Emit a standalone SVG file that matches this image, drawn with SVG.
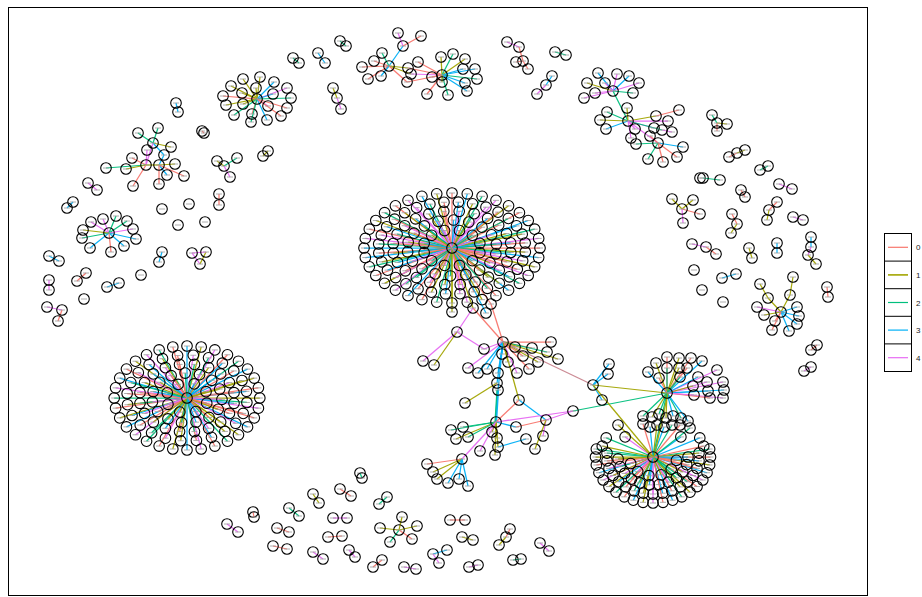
<svg xmlns="http://www.w3.org/2000/svg" xmlns:xlink="http://www.w3.org/1999/xlink" width="922" height="597" viewBox="0 0 922 597">
<style>
.e line{stroke-width:1.25;vector-effect:non-scaling-stroke;opacity:.95}
.c0{stroke:#F8766D}.c1{stroke:#A3A500}.c2{stroke:#00BF7D}.c3{stroke:#00B0F6}.c4{stroke:#E76BF3}
.lg{font-family:"Liberation Sans",Arial,sans-serif;font-size:8px;fill:#1a1a1a}
</style>
<defs>
<g id="nd"><circle r="5.3" fill="none" stroke="#000" stroke-width="1.1"/><path d="M-3 0h6" stroke="#999" stroke-width=".8"/></g>
<g id="ndA"><use href="#nd" transform="scale(.625 1)"/></g>
<g id="ndB"><use href="#nd" transform="scale(.714286 1)"/></g>
<g id="ndD"><use href="#nd" transform="scale(.8 1)"/></g>
</defs>
<rect x="0" y="0" width="922" height="597" fill="#fff"/>
<rect x="8.5" y="7.5" width="859" height="588" fill="#fff" stroke="#000" stroke-width="1"/>

<g id="connectors" class="e">
<g transform="translate(452 248) scale(1.6 1)">
<line class="c0" transform="rotate(0)" x2="55"/><line class="c3" transform="rotate(10)" x2="55"/><line class="c1" transform="rotate(20)" x2="55"/><line class="c4" transform="rotate(30)" x2="55"/><line class="c2" transform="rotate(40)" x2="55"/><line class="c3" transform="rotate(50)" x2="55"/><line class="c0" transform="rotate(60)" x2="55"/><line class="c1" transform="rotate(70)" x2="55"/><line class="c4" transform="rotate(80)" x2="55"/><line class="c1" transform="rotate(90)" x2="55"/><line class="c2" transform="rotate(100)" x2="55"/><line class="c0" transform="rotate(110)" x2="55"/><line class="c3" transform="rotate(120)" x2="55"/><line class="c4" transform="rotate(130)" x2="55"/><line class="c1" transform="rotate(140)" x2="55"/><line class="c0" transform="rotate(150)" x2="55"/><line class="c2" transform="rotate(160)" x2="55"/><line class="c3" transform="rotate(170)" x2="55"/><line class="c3" transform="rotate(180)" x2="55"/><line class="c4" transform="rotate(190)" x2="55"/><line class="c0" transform="rotate(200)" x2="55"/><line class="c1" transform="rotate(210)" x2="55"/><line class="c2" transform="rotate(220)" x2="55"/><line class="c0" transform="rotate(230)" x2="55"/><line class="c4" transform="rotate(240)" x2="55"/><line class="c3" transform="rotate(250)" x2="55"/><line class="c1" transform="rotate(260)" x2="55"/><line class="c0" transform="rotate(270)" x2="55"/><line class="c3" transform="rotate(280)" x2="55"/><line class="c2" transform="rotate(290)" x2="55"/><line class="c4" transform="rotate(300)" x2="55"/><line class="c1" transform="rotate(310)" x2="55"/><line class="c0" transform="rotate(320)" x2="55"/><line class="c3" transform="rotate(330)" x2="55"/><line class="c2" transform="rotate(340)" x2="55"/><line class="c4" transform="rotate(350)" x2="55"/>
<line class="c1" transform="rotate(5)" x2="46"/><line class="c4" transform="rotate(16.25)" x2="46"/><line class="c0" transform="rotate(27.5)" x2="46"/><line class="c3" transform="rotate(38.75)" x2="46"/><line class="c1" transform="rotate(50)" x2="46"/><line class="c2" transform="rotate(61.25)" x2="46"/><line class="c0" transform="rotate(72.5)" x2="46"/><line class="c4" transform="rotate(83.75)" x2="46"/><line class="c3" transform="rotate(95)" x2="46"/><line class="c1" transform="rotate(106.25)" x2="46"/><line class="c0" transform="rotate(117.5)" x2="46"/><line class="c2" transform="rotate(128.75)" x2="46"/><line class="c4" transform="rotate(140)" x2="46"/><line class="c3" transform="rotate(151.25)" x2="46"/><line class="c1" transform="rotate(162.5)" x2="46"/><line class="c0" transform="rotate(173.75)" x2="46"/><line class="c2" transform="rotate(185)" x2="46"/><line class="c4" transform="rotate(196.25)" x2="46"/><line class="c3" transform="rotate(207.5)" x2="46"/><line class="c0" transform="rotate(218.75)" x2="46"/><line class="c1" transform="rotate(230)" x2="46"/><line class="c4" transform="rotate(241.25)" x2="46"/><line class="c2" transform="rotate(252.5)" x2="46"/><line class="c0" transform="rotate(263.75)" x2="46"/><line class="c3" transform="rotate(275)" x2="46"/><line class="c1" transform="rotate(286.25)" x2="46"/><line class="c4" transform="rotate(297.5)" x2="46"/><line class="c0" transform="rotate(308.75)" x2="46"/><line class="c2" transform="rotate(320)" x2="46"/><line class="c3" transform="rotate(331.25)" x2="46"/><line class="c1" transform="rotate(342.5)" x2="46"/><line class="c0" transform="rotate(353.75)" x2="46"/>
<line class="c2" transform="rotate(7)" x2="37"/><line class="c0" transform="rotate(22)" x2="37"/><line class="c4" transform="rotate(37)" x2="37"/><line class="c1" transform="rotate(52)" x2="37"/><line class="c3" transform="rotate(67)" x2="37"/><line class="c0" transform="rotate(82)" x2="37"/><line class="c1" transform="rotate(97)" x2="37"/><line class="c4" transform="rotate(112)" x2="37"/><line class="c2" transform="rotate(127)" x2="37"/><line class="c0" transform="rotate(142)" x2="37"/><line class="c3" transform="rotate(157)" x2="37"/><line class="c1" transform="rotate(172)" x2="37"/><line class="c0" transform="rotate(187)" x2="37"/><line class="c2" transform="rotate(202)" x2="37"/><line class="c4" transform="rotate(217)" x2="37"/><line class="c3" transform="rotate(232)" x2="37"/><line class="c1" transform="rotate(247)" x2="37"/><line class="c0" transform="rotate(262)" x2="37"/><line class="c4" transform="rotate(277)" x2="37"/><line class="c2" transform="rotate(292)" x2="37"/><line class="c3" transform="rotate(307)" x2="37"/><line class="c0" transform="rotate(322)" x2="37"/><line class="c1" transform="rotate(337)" x2="37"/><line class="c3" transform="rotate(352)" x2="37"/>
<line class="c4" transform="rotate(12)" x2="28"/><line class="c1" transform="rotate(32)" x2="28"/><line class="c0" transform="rotate(52)" x2="28"/><line class="c3" transform="rotate(72)" x2="28"/><line class="c2" transform="rotate(92)" x2="28"/><line class="c1" transform="rotate(112)" x2="28"/><line class="c0" transform="rotate(132)" x2="28"/><line class="c4" transform="rotate(152)" x2="28"/><line class="c3" transform="rotate(172)" x2="28"/><line class="c1" transform="rotate(192)" x2="28"/><line class="c0" transform="rotate(212)" x2="28"/><line class="c2" transform="rotate(232)" x2="28"/><line class="c4" transform="rotate(252)" x2="28"/><line class="c3" transform="rotate(272)" x2="28"/><line class="c1" transform="rotate(292)" x2="28"/><line class="c0" transform="rotate(312)" x2="28"/><line class="c4" transform="rotate(332)" x2="28"/><line class="c2" transform="rotate(352)" x2="28"/>
<line class="c0" transform="rotate(15)" x2="18"/><line class="c3" transform="rotate(45)" x2="18"/><line class="c1" transform="rotate(75)" x2="18"/><line class="c4" transform="rotate(105)" x2="18"/><line class="c2" transform="rotate(135)" x2="18"/><line class="c0" transform="rotate(165)" x2="18"/><line class="c3" transform="rotate(195)" x2="18"/><line class="c1" transform="rotate(225)" x2="18"/><line class="c4" transform="rotate(255)" x2="18"/><line class="c0" transform="rotate(285)" x2="18"/><line class="c2" transform="rotate(315)" x2="18"/><line class="c3" transform="rotate(345)" x2="18"/>
</g>
<g transform="translate(187 398) scale(1.4 1)">
<line class="c1" transform="rotate(0)" x2="52"/><line class="c4" transform="rotate(11.25)" x2="52"/><line class="c0" transform="rotate(22.5)" x2="52"/><line class="c3" transform="rotate(33.75)" x2="52"/><line class="c1" transform="rotate(45)" x2="52"/><line class="c2" transform="rotate(56.25)" x2="52"/><line class="c0" transform="rotate(67.5)" x2="52"/><line class="c4" transform="rotate(78.75)" x2="52"/><line class="c3" transform="rotate(90)" x2="52"/><line class="c1" transform="rotate(101.25)" x2="52"/><line class="c0" transform="rotate(112.5)" x2="52"/><line class="c2" transform="rotate(123.75)" x2="52"/><line class="c4" transform="rotate(135)" x2="52"/><line class="c3" transform="rotate(146.25)" x2="52"/><line class="c1" transform="rotate(157.5)" x2="52"/><line class="c0" transform="rotate(168.75)" x2="52"/><line class="c2" transform="rotate(180)" x2="52"/><line class="c4" transform="rotate(191.25)" x2="52"/><line class="c3" transform="rotate(202.5)" x2="52"/><line class="c0" transform="rotate(213.75)" x2="52"/><line class="c1" transform="rotate(225)" x2="52"/><line class="c4" transform="rotate(236.25)" x2="52"/><line class="c2" transform="rotate(247.5)" x2="52"/><line class="c0" transform="rotate(258.75)" x2="52"/><line class="c3" transform="rotate(270)" x2="52"/><line class="c1" transform="rotate(281.25)" x2="52"/><line class="c4" transform="rotate(292.5)" x2="52"/><line class="c0" transform="rotate(303.75)" x2="52"/><line class="c2" transform="rotate(315)" x2="52"/><line class="c3" transform="rotate(326.25)" x2="52"/><line class="c1" transform="rotate(337.5)" x2="52"/><line class="c0" transform="rotate(348.75)" x2="52"/>
<line class="c2" transform="rotate(6)" x2="43"/><line class="c0" transform="rotate(21)" x2="43"/><line class="c4" transform="rotate(36)" x2="43"/><line class="c1" transform="rotate(51)" x2="43"/><line class="c3" transform="rotate(66)" x2="43"/><line class="c0" transform="rotate(81)" x2="43"/><line class="c1" transform="rotate(96)" x2="43"/><line class="c4" transform="rotate(111)" x2="43"/><line class="c2" transform="rotate(126)" x2="43"/><line class="c0" transform="rotate(141)" x2="43"/><line class="c3" transform="rotate(156)" x2="43"/><line class="c1" transform="rotate(171)" x2="43"/><line class="c0" transform="rotate(186)" x2="43"/><line class="c2" transform="rotate(201)" x2="43"/><line class="c4" transform="rotate(216)" x2="43"/><line class="c3" transform="rotate(231)" x2="43"/><line class="c1" transform="rotate(246)" x2="43"/><line class="c0" transform="rotate(261)" x2="43"/><line class="c4" transform="rotate(276)" x2="43"/><line class="c2" transform="rotate(291)" x2="43"/><line class="c3" transform="rotate(306)" x2="43"/><line class="c0" transform="rotate(321)" x2="43"/><line class="c1" transform="rotate(336)" x2="43"/><line class="c3" transform="rotate(351)" x2="43"/>
<line class="c3" transform="rotate(9)" x2="34"/><line class="c0" transform="rotate(27)" x2="34"/><line class="c1" transform="rotate(45)" x2="34"/><line class="c4" transform="rotate(63)" x2="34"/><line class="c2" transform="rotate(81)" x2="34"/><line class="c0" transform="rotate(99)" x2="34"/><line class="c3" transform="rotate(117)" x2="34"/><line class="c1" transform="rotate(135)" x2="34"/><line class="c4" transform="rotate(153)" x2="34"/><line class="c2" transform="rotate(171)" x2="34"/><line class="c0" transform="rotate(189)" x2="34"/><line class="c1" transform="rotate(207)" x2="34"/><line class="c3" transform="rotate(225)" x2="34"/><line class="c4" transform="rotate(243)" x2="34"/><line class="c0" transform="rotate(261)" x2="34"/><line class="c2" transform="rotate(279)" x2="34"/><line class="c1" transform="rotate(297)" x2="34"/><line class="c3" transform="rotate(315)" x2="34"/><line class="c4" transform="rotate(333)" x2="34"/><line class="c0" transform="rotate(351)" x2="34"/>
<line class="c4" transform="rotate(3)" x2="25"/><line class="c1" transform="rotate(27)" x2="25"/><line class="c0" transform="rotate(51)" x2="25"/><line class="c3" transform="rotate(75)" x2="25"/><line class="c2" transform="rotate(99)" x2="25"/><line class="c1" transform="rotate(123)" x2="25"/><line class="c0" transform="rotate(147)" x2="25"/><line class="c4" transform="rotate(171)" x2="25"/><line class="c3" transform="rotate(195)" x2="25"/><line class="c1" transform="rotate(219)" x2="25"/><line class="c0" transform="rotate(243)" x2="25"/><line class="c2" transform="rotate(267)" x2="25"/><line class="c4" transform="rotate(291)" x2="25"/><line class="c3" transform="rotate(315)" x2="25"/><line class="c1" transform="rotate(339)" x2="25"/>
<line class="c0" transform="rotate(20)" x2="15"/><line class="c3" transform="rotate(65)" x2="15"/><line class="c1" transform="rotate(110)" x2="15"/><line class="c4" transform="rotate(155)" x2="15"/><line class="c2" transform="rotate(200)" x2="15"/><line class="c0" transform="rotate(245)" x2="15"/><line class="c3" transform="rotate(290)" x2="15"/><line class="c1" transform="rotate(335)" x2="15"/>
</g>
<g transform="translate(653 457) scale(1.25 1)">
<line class="c2" transform="rotate(-10)" x2="46"/><line class="c0" transform="rotate(0)" x2="46"/><line class="c1" transform="rotate(10)" x2="46"/><line class="c3" transform="rotate(20)" x2="46"/><line class="c4" transform="rotate(30)" x2="46"/><line class="c0" transform="rotate(40)" x2="46"/><line class="c1" transform="rotate(50)" x2="46"/><line class="c2" transform="rotate(60)" x2="46"/><line class="c3" transform="rotate(70)" x2="46"/><line class="c0" transform="rotate(80)" x2="46"/><line class="c4" transform="rotate(90)" x2="46"/><line class="c1" transform="rotate(100)" x2="46"/><line class="c3" transform="rotate(110)" x2="46"/><line class="c0" transform="rotate(120)" x2="46"/><line class="c2" transform="rotate(130)" x2="46"/><line class="c1" transform="rotate(140)" x2="46"/><line class="c4" transform="rotate(150)" x2="46"/><line class="c3" transform="rotate(160)" x2="46"/><line class="c0" transform="rotate(170)" x2="46"/><line class="c1" transform="rotate(180)" x2="46"/><line class="c2" transform="rotate(190)" x2="46"/>
<line class="c1" transform="rotate(-6)" x2="37"/><line class="c3" transform="rotate(6)" x2="37"/><line class="c0" transform="rotate(18)" x2="37"/><line class="c4" transform="rotate(30)" x2="37"/><line class="c2" transform="rotate(42)" x2="37"/><line class="c1" transform="rotate(54)" x2="37"/><line class="c0" transform="rotate(66)" x2="37"/><line class="c3" transform="rotate(78)" x2="37"/><line class="c4" transform="rotate(90)" x2="37"/><line class="c1" transform="rotate(102)" x2="37"/><line class="c2" transform="rotate(114)" x2="37"/><line class="c0" transform="rotate(126)" x2="37"/><line class="c3" transform="rotate(138)" x2="37"/><line class="c1" transform="rotate(150)" x2="37"/><line class="c4" transform="rotate(162)" x2="37"/><line class="c0" transform="rotate(174)" x2="37"/><line class="c2" transform="rotate(186)" x2="37"/>
<line class="c3" transform="rotate(0)" x2="28"/><line class="c0" transform="rotate(16)" x2="28"/><line class="c1" transform="rotate(32)" x2="28"/><line class="c2" transform="rotate(48)" x2="28"/><line class="c4" transform="rotate(64)" x2="28"/><line class="c0" transform="rotate(80)" x2="28"/><line class="c3" transform="rotate(96)" x2="28"/><line class="c1" transform="rotate(112)" x2="28"/><line class="c0" transform="rotate(128)" x2="28"/><line class="c4" transform="rotate(144)" x2="28"/><line class="c2" transform="rotate(160)" x2="28"/><line class="c1" transform="rotate(176)" x2="28"/>
<line class="c0" transform="rotate(10)" x2="19"/><line class="c2" transform="rotate(40)" x2="19"/><line class="c1" transform="rotate(70)" x2="19"/><line class="c3" transform="rotate(100)" x2="19"/><line class="c4" transform="rotate(130)" x2="19"/><line class="c0" transform="rotate(160)" x2="19"/>
<line class="c1" transform="rotate(195)" x2="42"/><line class="c2" transform="rotate(207)" x2="42"/><line class="c3" transform="rotate(333)" x2="42"/><line class="c0" transform="rotate(345)" x2="42"/><line class="c4" transform="rotate(222)" x2="30"/><line class="c3" transform="rotate(318)" x2="30"/>
</g>
<line class="c0" x1="667" y1="393" x2="667" y2="357"/><line class="c1" x1="667" y1="393" x2="679" y2="358"/><line class="c0" x1="667" y1="393" x2="691" y2="358"/><line class="c3" x1="667" y1="393" x2="702" y2="361"/><line class="c4" x1="667" y1="393" x2="717" y2="370"/><line class="c4" x1="667" y1="393" x2="723" y2="382"/><line class="c3" x1="667" y1="393" x2="724" y2="390"/><line class="c4" x1="667" y1="393" x2="723" y2="398"/><line class="c0" x1="667" y1="393" x2="710" y2="398"/><line class="c3" x1="667" y1="393" x2="708" y2="391"/><line class="c4" x1="667" y1="393" x2="707" y2="382"/><line class="c1" x1="667" y1="393" x2="693" y2="386"/><line class="c3" x1="667" y1="393" x2="698" y2="377"/><line class="c0" x1="667" y1="393" x2="687" y2="368"/><line class="c1" x1="667" y1="393" x2="679" y2="368"/><line class="c2" x1="667" y1="393" x2="667" y2="368"/><line class="c1" x1="667" y1="393" x2="656" y2="363"/><line class="c3" x1="667" y1="393" x2="648" y2="372"/><line class="c0" x1="667" y1="393" x2="659" y2="378"/><line class="c2" x1="667" y1="393" x2="680" y2="377"/><line class="c4" x1="667" y1="393" x2="694" y2="395"/>
<line class="c2" x1="667" y1="393" x2="643" y2="416"/><line class="c1" x1="667" y1="393" x2="652" y2="417"/><line class="c2" x1="667" y1="393" x2="659" y2="414"/><line class="c1" x1="667" y1="393" x2="666" y2="418"/><line class="c3" x1="667" y1="393" x2="673" y2="416"/><line class="c2" x1="667" y1="393" x2="681" y2="418"/><line class="c3" x1="667" y1="393" x2="688" y2="421"/>
<line class="c2" x1="653" y1="457" x2="690" y2="428"/><line class="c0" x1="653" y1="457" x2="643" y2="424"/><line class="c3" x1="653" y1="457" x2="650" y2="427"/><line class="c1" x1="653" y1="457" x2="657" y2="425"/><line class="c3" x1="653" y1="457" x2="664" y2="427"/><line class="c2" x1="653" y1="457" x2="672" y2="425"/><line class="c0" x1="653" y1="457" x2="680" y2="425"/>
<line class="c2" x1="667" y1="393" x2="653" y2="457"/><line class="c1" x1="668" y1="393" x2="654" y2="457"/>
<line class="c1" x1="452" y1="248" x2="452" y2="312"/><line class="c1" x1="452" y1="248" x2="473" y2="308"/><line class="c3" x1="452" y1="248" x2="486" y2="313"/><line class="c0" x1="452" y1="248" x2="491" y2="304"/>
<line class="c0" x1="473" y1="308" x2="503" y2="342"/><line class="c0" x1="491" y1="304" x2="503" y2="342"/><line class="c4" x1="473" y1="308" x2="457" y2="332"/><line class="c4" x1="457" y1="332" x2="423" y2="361"/><line class="c1" x1="457" y1="332" x2="434" y2="365"/><line class="c4" x1="457" y1="332" x2="484" y2="349"/>
<line class="c4" x1="503" y1="342" x2="484" y2="349"/><line class="c0" x1="503" y1="342" x2="515" y2="347"/><line class="c0" x1="503" y1="342" x2="523" y2="356"/><line class="c0" x1="503" y1="342" x2="532" y2="348"/><line class="c0" x1="503" y1="342" x2="551" y2="342"/><line class="c2" x1="503" y1="342" x2="547" y2="352"/><line class="c1" x1="503" y1="342" x2="538" y2="362"/><line class="c1" x1="503" y1="342" x2="558" y2="359"/><line class="c0" x1="503" y1="342" x2="529" y2="369"/><line class="c1" x1="503" y1="342" x2="508" y2="362"/><line class="c3" x1="503" y1="342" x2="502" y2="354"/><line class="c4" x1="503" y1="342" x2="517" y2="373"/><line class="c4" x1="503" y1="342" x2="468" y2="368"/><line class="c3" x1="503" y1="342" x2="478" y2="373"/><line class="c3" x1="503" y1="342" x2="487" y2="369"/><line class="c3" x1="503" y1="342" x2="498" y2="373"/><line class="c3" x1="503" y1="342" x2="497" y2="383"/><line class="c3" x1="503" y1="342" x2="498" y2="390"/><line class="c1" x1="503" y1="342" x2="519" y2="400"/><line stroke="#C9858F" x1="503" y1="342" x2="593" y2="385"/>
<line class="c1" x1="497" y1="383" x2="465" y2="403"/><line class="c3" x1="498" y1="390" x2="496" y2="422" style="stroke-width:2.2"/><line class="c2" x1="497" y1="390" x2="495" y2="422"/>
<line class="c0" x1="496" y1="422" x2="519" y2="400"/><line class="c3" x1="519" y1="400" x2="546" y2="420"/><line class="c4" x1="496" y1="422" x2="573" y2="411"/><line class="c4" x1="546" y1="420" x2="573" y2="411"/><line class="c2" x1="573" y1="411" x2="667" y2="393"/><line class="c3" x1="496" y1="422" x2="516" y2="427"/><line class="c0" x1="516" y1="427" x2="546" y2="420"/>
<line class="c2" x1="496" y1="422" x2="463" y2="427"/><line class="c2" x1="496" y1="422" x2="451" y2="430"/><line class="c1" x1="496" y1="422" x2="456" y2="439"/><line class="c2" x1="496" y1="422" x2="468" y2="437"/><line class="c1" x1="496" y1="422" x2="492" y2="432"/><line class="c1" x1="496" y1="422" x2="497" y2="438"/><line class="c4" x1="496" y1="422" x2="480" y2="451"/><line class="c1" x1="496" y1="422" x2="498" y2="447"/><line class="c1" x1="496" y1="422" x2="495" y2="455"/><line class="c4" x1="496" y1="422" x2="462" y2="459"/><line class="c3" x1="498" y1="447" x2="526" y2="439"/>
<line class="c4" x1="546" y1="420" x2="543" y2="436"/><line class="c1" x1="546" y1="420" x2="535" y2="449"/>
<line class="c0" x1="462" y1="459" x2="427" y2="464"/><line class="c1" x1="462" y1="459" x2="433" y2="472"/><line class="c1" x1="462" y1="459" x2="437" y2="479"/><line class="c3" x1="462" y1="459" x2="448" y2="483"/><line class="c3" x1="462" y1="459" x2="459" y2="479"/><line class="c3" x1="462" y1="459" x2="468" y2="486"/>
<line class="c1" x1="593" y1="385" x2="667" y2="393"/><line class="c3" x1="593" y1="385" x2="602" y2="400"/><line class="c3" x1="593" y1="385" x2="609" y2="364"/><line class="c3" x1="593" y1="385" x2="608" y2="374"/><line class="c1" x1="593" y1="385" x2="653" y2="457"/><line class="c1" x1="618" y1="425" x2="653" y2="457"/>
<line class="c1" x1="257" y1="99" x2="243" y2="79"/><line class="c1" x1="257" y1="99" x2="260" y2="77"/><line class="c1" x1="257" y1="99" x2="231" y2="86"/><line class="c1" x1="257" y1="99" x2="242" y2="93"/><line class="c1" x1="257" y1="99" x2="256" y2="88"/><line class="c3" x1="257" y1="99" x2="274" y2="82"/><line class="c4" x1="257" y1="99" x2="287" y2="88"/><line class="c3" x1="257" y1="99" x2="273" y2="94"/><line class="c0" x1="257" y1="99" x2="223" y2="96"/><line class="c1" x1="257" y1="99" x2="226" y2="105"/><line class="c1" x1="257" y1="99" x2="243" y2="104"/><line class="c2" x1="257" y1="99" x2="291" y2="98"/><line class="c0" x1="257" y1="99" x2="287" y2="108"/><line class="c4" x1="257" y1="99" x2="268" y2="106"/><line class="c2" x1="257" y1="99" x2="234" y2="115"/><line class="c0" x1="257" y1="99" x2="252" y2="114"/><line class="c2" x1="257" y1="99" x2="251" y2="122"/><line class="c3" x1="257" y1="99" x2="267" y2="120"/><line class="c0" x1="257" y1="99" x2="281" y2="116"/>
<line class="c2" x1="293" y1="58" x2="299" y2="63"/><line class="c3" x1="318" y1="53" x2="325" y2="63"/><line class="c2" x1="340" y1="41" x2="346" y2="46"/><line class="c1" x1="333" y1="88" x2="337" y2="98"/><line class="c4" x1="337" y1="98" x2="341" y2="109"/>
<line class="c0" x1="389" y1="66" x2="362" y2="67"/><line class="c0" x1="389" y1="66" x2="374" y2="61"/><line class="c2" x1="389" y1="66" x2="382" y2="53"/><line class="c3" x1="389" y1="66" x2="403" y2="46"/><line class="c0" x1="389" y1="66" x2="368" y2="79"/><line class="c3" x1="389" y1="66" x2="381" y2="76"/><line class="c1" x1="389" y1="66" x2="408" y2="68"/><line class="c1" x1="389" y1="66" x2="411" y2="74"/><line class="c0" x1="389" y1="66" x2="407" y2="82"/><line class="c4" x1="398" y1="33" x2="403" y2="46"/><line class="c0" x1="421" y1="36" x2="403" y2="46"/>
<line class="c4" x1="411" y1="74" x2="442" y2="75"/><line class="c0" x1="408" y1="68" x2="442" y2="75"/><line class="c0" x1="407" y1="82" x2="442" y2="75"/><line class="c0" x1="418" y1="62" x2="442" y2="75"/>
<line class="c1" x1="442" y1="75" x2="441" y2="57"/><line class="c2" x1="442" y1="75" x2="453" y2="54"/><line class="c1" x1="442" y1="75" x2="465" y2="59"/><line class="c3" x1="442" y1="75" x2="463" y2="69"/><line class="c3" x1="442" y1="75" x2="475" y2="69"/><line class="c2" x1="442" y1="75" x2="477" y2="79"/><line class="c3" x1="442" y1="75" x2="465" y2="83"/><line class="c3" x1="442" y1="75" x2="467" y2="91"/><line class="c2" x1="442" y1="75" x2="448" y2="95"/><line class="c0" x1="442" y1="75" x2="427" y2="94"/><line class="c0" x1="442" y1="75" x2="432" y2="77"/><line class="c1" x1="442" y1="75" x2="442" y2="82"/>
<line class="c4" x1="507" y1="42" x2="519" y2="47"/><line class="c0" x1="519" y1="47" x2="523" y2="61"/><line class="c0" x1="516" y1="62" x2="523" y2="61"/><line class="c0" x1="523" y1="61" x2="528" y2="69"/>
<line class="c2" x1="555" y1="52" x2="566" y2="55"/><line class="c3" x1="552" y1="76" x2="546" y2="85"/><line class="c4" x1="546" y1="85" x2="537" y2="94"/>
<line class="c3" x1="613" y1="91" x2="598" y2="73"/><line class="c4" x1="613" y1="91" x2="617" y2="74"/><line class="c3" x1="613" y1="91" x2="629" y2="76"/><line class="c4" x1="613" y1="91" x2="639" y2="83"/><line class="c2" x1="613" y1="91" x2="633" y2="93"/><line class="c1" x1="613" y1="91" x2="587" y2="83"/><line class="c4" x1="613" y1="91" x2="595" y2="93"/><line class="c4" x1="613" y1="91" x2="584" y2="98"/><line class="c4" x1="613" y1="91" x2="605" y2="83"/><line class="c2" x1="613" y1="91" x2="628" y2="121"/>
<line class="c1" x1="628" y1="121" x2="627" y2="108"/><line class="c2" x1="628" y1="121" x2="607" y2="112"/><line class="c1" x1="628" y1="121" x2="600" y2="120"/><line class="c3" x1="628" y1="121" x2="606" y2="129"/><line class="c1" x1="628" y1="121" x2="656" y2="116"/><line class="c0" x1="656" y1="116" x2="679" y2="110"/><line class="c4" x1="628" y1="121" x2="668" y2="121"/><line class="c4" x1="628" y1="121" x2="654" y2="128"/><line class="c2" x1="628" y1="121" x2="662" y2="130"/><line class="c4" x1="662" y1="130" x2="672" y2="132"/><line class="c4" x1="628" y1="121" x2="635" y2="129"/><line class="c4" x1="628" y1="121" x2="631" y2="138"/><line class="c4" x1="628" y1="121" x2="658" y2="143"/>
<line class="c3" x1="658" y1="143" x2="683" y2="147"/><line class="c0" x1="658" y1="143" x2="677" y2="157"/><line class="c0" x1="658" y1="143" x2="663" y2="162"/><line class="c2" x1="658" y1="143" x2="648" y2="159"/><line class="c2" x1="658" y1="143" x2="636" y2="144"/><line class="c0" x1="658" y1="143" x2="650" y2="136"/>
<line class="c2" x1="717" y1="123" x2="712" y2="115"/><line class="c1" x1="717" y1="123" x2="727" y2="124"/><line class="c0" x1="717" y1="123" x2="717" y2="131"/>
<line class="c0" x1="729" y1="157" x2="737" y2="153"/><line class="c1" x1="737" y1="153" x2="745" y2="150"/><line class="c2" x1="760" y1="170" x2="768" y2="166"/><line class="c2" x1="703" y1="178" x2="720" y2="180"/><line class="c4" x1="779" y1="184" x2="792" y2="189"/><line class="c0" x1="741" y1="190" x2="745" y2="197"/><line class="c0" x1="777" y1="202" x2="769" y2="210"/><line class="c1" x1="769" y1="210" x2="767" y2="220"/>
<line class="c1" x1="682" y1="209" x2="672" y2="199"/><line class="c1" x1="682" y1="209" x2="693" y2="200"/><line class="c0" x1="682" y1="209" x2="700" y2="214"/><line class="c4" x1="682" y1="209" x2="683" y2="223"/>
<line class="c0" x1="732" y1="214" x2="737" y2="224"/><line class="c1" x1="737" y1="224" x2="731" y2="233"/><line class="c4" x1="793" y1="217" x2="803" y2="220"/><line class="c4" x1="692" y1="244" x2="706" y2="247"/><line class="c0" x1="706" y1="247" x2="716" y2="254"/><line class="c1" x1="749" y1="248" x2="752" y2="258"/><line class="c3" x1="777" y1="243" x2="777" y2="253"/><line class="c3" x1="811" y1="237" x2="811" y2="247"/><line class="c4" x1="811" y1="247" x2="808" y2="255"/><line class="c1" x1="808" y1="255" x2="816" y2="264"/><line class="c3" x1="722" y1="278" x2="736" y2="274"/>
<line class="c1" x1="793" y1="277" x2="790" y2="295"/><line class="c1" x1="790" y1="295" x2="781" y2="312"/><line class="c1" x1="760" y1="284" x2="768" y2="298"/><line class="c1" x1="768" y1="298" x2="781" y2="312"/><line class="c4" x1="781" y1="312" x2="757" y2="307"/><line class="c1" x1="781" y1="312" x2="764" y2="315"/><line class="c3" x1="781" y1="312" x2="797" y2="307"/><line class="c3" x1="781" y1="312" x2="799" y2="316"/><line class="c3" x1="781" y1="312" x2="797" y2="324"/><line class="c3" x1="781" y1="312" x2="789" y2="331"/><line class="c0" x1="781" y1="312" x2="772" y2="330"/><line class="c0" x1="781" y1="312" x2="775" y2="321"/>
<line class="c0" x1="827" y1="287" x2="828" y2="297"/><line class="c0" x1="817" y1="345" x2="811" y2="350"/><line class="c4" x1="811" y1="367" x2="804" y2="371"/>
<line class="c3" x1="176" y1="103" x2="178" y2="112"/><line class="c0" x1="202" y1="131" x2="204" y2="133"/>
<line class="c2" x1="153" y1="143" x2="138" y2="133"/><line class="c2" x1="153" y1="143" x2="158" y2="128"/><line class="c1" x1="153" y1="143" x2="171" y2="147"/><line class="c4" x1="147" y1="150" x2="146" y2="165"/><line class="c3" x1="153" y1="143" x2="164" y2="155"/><line class="c3" x1="164" y1="155" x2="159" y2="165"/><line class="c4" x1="153" y1="143" x2="146" y2="165"/><line class="c1" x1="146" y1="165" x2="159" y2="165"/><line class="c0" x1="146" y1="165" x2="132" y2="158"/><line class="c2" x1="146" y1="165" x2="106" y2="168"/><line class="c1" x1="146" y1="165" x2="126" y2="169"/><line class="c0" x1="146" y1="165" x2="133" y2="186"/><line class="c1" x1="159" y1="165" x2="175" y2="164"/><line class="c3" x1="159" y1="165" x2="167" y2="175"/><line class="c0" x1="159" y1="165" x2="184" y2="176"/><line class="c0" x1="159" y1="165" x2="159" y2="184"/>
<line class="c1" x1="217" y1="161" x2="224" y2="166"/><line class="c2" x1="224" y1="166" x2="237" y2="158"/><line class="c4" x1="224" y1="166" x2="230" y2="177"/><line class="c1" x1="268" y1="151" x2="263" y2="156"/><line class="c4" x1="88" y1="183" x2="97" y2="190"/><line class="c3" x1="73" y1="202" x2="67" y2="208"/><line class="c0" x1="219" y1="194" x2="219" y2="205"/>
<line class="c4" x1="109" y1="233" x2="91" y2="222"/><line class="c4" x1="109" y1="233" x2="103" y2="219"/><line class="c2" x1="109" y1="233" x2="116" y2="216"/><line class="c2" x1="109" y1="233" x2="127" y2="221"/><line class="c4" x1="109" y1="233" x2="133" y2="229"/><line class="c3" x1="109" y1="233" x2="136" y2="239"/><line class="c3" x1="109" y1="233" x2="124" y2="246"/><line class="c0" x1="109" y1="233" x2="111" y2="252"/><line class="c3" x1="109" y1="233" x2="90" y2="248"/><line class="c2" x1="109" y1="233" x2="82" y2="238"/><line class="c1" x1="109" y1="233" x2="83" y2="230"/>
<line class="c4" x1="192" y1="253" x2="200" y2="264"/><line class="c1" x1="206" y1="252" x2="200" y2="264"/><line class="c4" x1="192" y1="253" x2="206" y2="252"/><line class="c3" x1="162" y1="252" x2="159" y2="262"/><line class="c3" x1="49" y1="256" x2="59" y2="261"/><line class="c4" x1="49" y1="280" x2="49" y2="290"/><line class="c0" x1="86" y1="273" x2="77" y2="281"/><line class="c3" x1="119" y1="283" x2="107" y2="287"/><line class="c4" x1="47" y1="307" x2="62" y2="310"/><line class="c0" x1="62" y1="310" x2="58" y2="321"/>
<line class="c2" x1="360" y1="473" x2="362" y2="478"/><line class="c0" x1="340" y1="489" x2="351" y2="496"/><line class="c1" x1="313" y1="494" x2="319" y2="503"/><line class="c2" x1="289" y1="508" x2="299" y2="516"/><line class="c0" x1="253" y1="512" x2="254" y2="517"/><line class="c4" x1="227" y1="524" x2="238" y2="532"/><line class="c0" x1="277" y1="528" x2="289" y2="532"/><line class="c4" x1="333" y1="518" x2="347" y2="518"/><line class="c2" x1="379" y1="504" x2="387" y2="497"/>
<line class="c1" x1="399" y1="530" x2="402" y2="517"/><line class="c1" x1="399" y1="530" x2="380" y2="528"/><line class="c1" x1="399" y1="530" x2="417" y2="526"/><line class="c0" x1="399" y1="530" x2="412" y2="539"/><line class="c2" x1="399" y1="530" x2="390" y2="542"/>
<line class="c0" x1="273" y1="546" x2="287" y2="549"/><line class="c0" x1="328" y1="537" x2="342" y2="536"/><line class="c4" x1="313" y1="552" x2="323" y2="559"/><line class="c4" x1="349" y1="550" x2="355" y2="557"/><line class="c0" x1="382" y1="560" x2="373" y2="567"/><line class="c4" x1="404" y1="567" x2="416" y2="569"/><line class="c0" x1="450" y1="520" x2="465" y2="520"/><line class="c3" x1="433" y1="554" x2="447" y2="550"/><line class="c4" x1="433" y1="554" x2="439" y2="563"/><line class="c1" x1="462" y1="537" x2="473" y2="540"/><line class="c4" x1="469" y1="567" x2="478" y2="565"/><line class="c0" x1="510" y1="529" x2="506" y2="537"/><line class="c1" x1="506" y1="537" x2="499" y2="545"/><line class="c2" x1="513" y1="560" x2="521" y2="559"/><line class="c4" x1="540" y1="543" x2="549" y2="551"/>
</g>

<g id="nodes-hubA" transform="translate(452 248) scale(1.6 1)">
<use id="a1" href="#ndA" transform="rotate(0) translate(55) rotate(0)"/><use id="a2" href="#ndA" transform="rotate(10) translate(55) rotate(-10)"/><use id="a3" href="#ndA" transform="rotate(20) translate(55) rotate(-20)"/><use id="a4" href="#ndA" transform="rotate(30) translate(55) rotate(-30)"/><use id="a5" href="#ndA" transform="rotate(40) translate(55) rotate(-40)"/><use id="a6" href="#ndA" transform="rotate(50) translate(55) rotate(-50)"/><use id="a7" href="#ndA" transform="rotate(60) translate(55) rotate(-60)"/><use id="a8" href="#ndA" transform="rotate(70) translate(55) rotate(-70)"/><use id="a9" href="#ndA" transform="rotate(80) translate(55) rotate(-80)"/><use id="a10" href="#ndA" transform="rotate(90) translate(55) rotate(-90)"/><use id="a11" href="#ndA" transform="rotate(100) translate(55) rotate(-100)"/><use id="a12" href="#ndA" transform="rotate(110) translate(55) rotate(-110)"/><use id="a13" href="#ndA" transform="rotate(120) translate(55) rotate(-120)"/><use id="a14" href="#ndA" transform="rotate(130) translate(55) rotate(-130)"/><use id="a15" href="#ndA" transform="rotate(140) translate(55) rotate(-140)"/><use id="a16" href="#ndA" transform="rotate(150) translate(55) rotate(-150)"/><use id="a17" href="#ndA" transform="rotate(160) translate(55) rotate(-160)"/><use id="a18" href="#ndA" transform="rotate(170) translate(55) rotate(-170)"/><use id="a19" href="#ndA" transform="rotate(180) translate(55) rotate(-180)"/><use id="a20" href="#ndA" transform="rotate(190) translate(55) rotate(-190)"/><use id="a21" href="#ndA" transform="rotate(200) translate(55) rotate(-200)"/><use id="a22" href="#ndA" transform="rotate(210) translate(55) rotate(-210)"/><use id="a23" href="#ndA" transform="rotate(220) translate(55) rotate(-220)"/><use id="a24" href="#ndA" transform="rotate(230) translate(55) rotate(-230)"/><use id="a25" href="#ndA" transform="rotate(240) translate(55) rotate(-240)"/><use id="a26" href="#ndA" transform="rotate(250) translate(55) rotate(-250)"/><use id="a27" href="#ndA" transform="rotate(260) translate(55) rotate(-260)"/><use id="a28" href="#ndA" transform="rotate(270) translate(55) rotate(-270)"/><use id="a29" href="#ndA" transform="rotate(280) translate(55) rotate(-280)"/><use id="a30" href="#ndA" transform="rotate(290) translate(55) rotate(-290)"/><use id="a31" href="#ndA" transform="rotate(300) translate(55) rotate(-300)"/><use id="a32" href="#ndA" transform="rotate(310) translate(55) rotate(-310)"/><use id="a33" href="#ndA" transform="rotate(320) translate(55) rotate(-320)"/><use id="a34" href="#ndA" transform="rotate(330) translate(55) rotate(-330)"/><use id="a35" href="#ndA" transform="rotate(340) translate(55) rotate(-340)"/><use id="a36" href="#ndA" transform="rotate(350) translate(55) rotate(-350)"/>
<use id="a37" href="#ndA" transform="rotate(5) translate(46) rotate(-5)"/><use id="a38" href="#ndA" transform="rotate(16.25) translate(46) rotate(-16.25)"/><use id="a39" href="#ndA" transform="rotate(27.5) translate(46) rotate(-27.5)"/><use id="a40" href="#ndA" transform="rotate(38.75) translate(46) rotate(-38.75)"/><use id="a41" href="#ndA" transform="rotate(50) translate(46) rotate(-50)"/><use id="a42" href="#ndA" transform="rotate(61.25) translate(46) rotate(-61.25)"/><use id="a43" href="#ndA" transform="rotate(72.5) translate(46) rotate(-72.5)"/><use id="a44" href="#ndA" transform="rotate(83.75) translate(46) rotate(-83.75)"/><use id="a45" href="#ndA" transform="rotate(95) translate(46) rotate(-95)"/><use id="a46" href="#ndA" transform="rotate(106.25) translate(46) rotate(-106.25)"/><use id="a47" href="#ndA" transform="rotate(117.5) translate(46) rotate(-117.5)"/><use id="a48" href="#ndA" transform="rotate(128.75) translate(46) rotate(-128.75)"/><use id="a49" href="#ndA" transform="rotate(140) translate(46) rotate(-140)"/><use id="a50" href="#ndA" transform="rotate(151.25) translate(46) rotate(-151.25)"/><use id="a51" href="#ndA" transform="rotate(162.5) translate(46) rotate(-162.5)"/><use id="a52" href="#ndA" transform="rotate(173.75) translate(46) rotate(-173.75)"/><use id="a53" href="#ndA" transform="rotate(185) translate(46) rotate(-185)"/><use id="a54" href="#ndA" transform="rotate(196.25) translate(46) rotate(-196.25)"/><use id="a55" href="#ndA" transform="rotate(207.5) translate(46) rotate(-207.5)"/><use id="a56" href="#ndA" transform="rotate(218.75) translate(46) rotate(-218.75)"/><use id="a57" href="#ndA" transform="rotate(230) translate(46) rotate(-230)"/><use id="a58" href="#ndA" transform="rotate(241.25) translate(46) rotate(-241.25)"/><use id="a59" href="#ndA" transform="rotate(252.5) translate(46) rotate(-252.5)"/><use id="a60" href="#ndA" transform="rotate(263.75) translate(46) rotate(-263.75)"/><use id="a61" href="#ndA" transform="rotate(275) translate(46) rotate(-275)"/><use id="a62" href="#ndA" transform="rotate(286.25) translate(46) rotate(-286.25)"/><use id="a63" href="#ndA" transform="rotate(297.5) translate(46) rotate(-297.5)"/><use id="a64" href="#ndA" transform="rotate(308.75) translate(46) rotate(-308.75)"/><use id="a65" href="#ndA" transform="rotate(320) translate(46) rotate(-320)"/><use id="a66" href="#ndA" transform="rotate(331.25) translate(46) rotate(-331.25)"/><use id="a67" href="#ndA" transform="rotate(342.5) translate(46) rotate(-342.5)"/><use id="a68" href="#ndA" transform="rotate(353.75) translate(46) rotate(-353.75)"/>
<use id="a69" href="#ndA" transform="rotate(7) translate(37) rotate(-7)"/><use id="a70" href="#ndA" transform="rotate(22) translate(37) rotate(-22)"/><use id="a71" href="#ndA" transform="rotate(37) translate(37) rotate(-37)"/><use id="a72" href="#ndA" transform="rotate(52) translate(37) rotate(-52)"/><use id="a73" href="#ndA" transform="rotate(67) translate(37) rotate(-67)"/><use id="a74" href="#ndA" transform="rotate(82) translate(37) rotate(-82)"/><use id="a75" href="#ndA" transform="rotate(97) translate(37) rotate(-97)"/><use id="a76" href="#ndA" transform="rotate(112) translate(37) rotate(-112)"/><use id="a77" href="#ndA" transform="rotate(127) translate(37) rotate(-127)"/><use id="a78" href="#ndA" transform="rotate(142) translate(37) rotate(-142)"/><use id="a79" href="#ndA" transform="rotate(157) translate(37) rotate(-157)"/><use id="a80" href="#ndA" transform="rotate(172) translate(37) rotate(-172)"/><use id="a81" href="#ndA" transform="rotate(187) translate(37) rotate(-187)"/><use id="a82" href="#ndA" transform="rotate(202) translate(37) rotate(-202)"/><use id="a83" href="#ndA" transform="rotate(217) translate(37) rotate(-217)"/><use id="a84" href="#ndA" transform="rotate(232) translate(37) rotate(-232)"/><use id="a85" href="#ndA" transform="rotate(247) translate(37) rotate(-247)"/><use id="a86" href="#ndA" transform="rotate(262) translate(37) rotate(-262)"/><use id="a87" href="#ndA" transform="rotate(277) translate(37) rotate(-277)"/><use id="a88" href="#ndA" transform="rotate(292) translate(37) rotate(-292)"/><use id="a89" href="#ndA" transform="rotate(307) translate(37) rotate(-307)"/><use id="a90" href="#ndA" transform="rotate(322) translate(37) rotate(-322)"/><use id="a91" href="#ndA" transform="rotate(337) translate(37) rotate(-337)"/><use id="a92" href="#ndA" transform="rotate(352) translate(37) rotate(-352)"/>
<use id="a93" href="#ndA" transform="rotate(12) translate(28) rotate(-12)"/><use id="a94" href="#ndA" transform="rotate(32) translate(28) rotate(-32)"/><use id="a95" href="#ndA" transform="rotate(52) translate(28) rotate(-52)"/><use id="a96" href="#ndA" transform="rotate(72) translate(28) rotate(-72)"/><use id="a97" href="#ndA" transform="rotate(92) translate(28) rotate(-92)"/><use id="a98" href="#ndA" transform="rotate(112) translate(28) rotate(-112)"/><use id="a99" href="#ndA" transform="rotate(132) translate(28) rotate(-132)"/><use id="a100" href="#ndA" transform="rotate(152) translate(28) rotate(-152)"/><use id="a101" href="#ndA" transform="rotate(172) translate(28) rotate(-172)"/><use id="a102" href="#ndA" transform="rotate(192) translate(28) rotate(-192)"/><use id="a103" href="#ndA" transform="rotate(212) translate(28) rotate(-212)"/><use id="a104" href="#ndA" transform="rotate(232) translate(28) rotate(-232)"/><use id="a105" href="#ndA" transform="rotate(252) translate(28) rotate(-252)"/><use id="a106" href="#ndA" transform="rotate(272) translate(28) rotate(-272)"/><use id="a107" href="#ndA" transform="rotate(292) translate(28) rotate(-292)"/><use id="a108" href="#ndA" transform="rotate(312) translate(28) rotate(-312)"/><use id="a109" href="#ndA" transform="rotate(332) translate(28) rotate(-332)"/><use id="a110" href="#ndA" transform="rotate(352) translate(28) rotate(-352)"/>
<use id="a111" href="#ndA" transform="rotate(15) translate(18) rotate(-15)"/><use id="a112" href="#ndA" transform="rotate(45) translate(18) rotate(-45)"/><use id="a113" href="#ndA" transform="rotate(75) translate(18) rotate(-75)"/><use id="a114" href="#ndA" transform="rotate(105) translate(18) rotate(-105)"/><use id="a115" href="#ndA" transform="rotate(135) translate(18) rotate(-135)"/><use id="a116" href="#ndA" transform="rotate(165) translate(18) rotate(-165)"/><use id="a117" href="#ndA" transform="rotate(195) translate(18) rotate(-195)"/><use id="a118" href="#ndA" transform="rotate(225) translate(18) rotate(-225)"/><use id="a119" href="#ndA" transform="rotate(255) translate(18) rotate(-255)"/><use id="a120" href="#ndA" transform="rotate(285) translate(18) rotate(-285)"/><use id="a121" href="#ndA" transform="rotate(315) translate(18) rotate(-315)"/><use id="a122" href="#ndA" transform="rotate(345) translate(18) rotate(-345)"/>
</g>

<g id="nodes-hubB" transform="translate(187 398) scale(1.4 1)">
<use id="b1" href="#ndB" transform="rotate(0) translate(52) rotate(0)"/><use id="b2" href="#ndB" transform="rotate(11.25) translate(52) rotate(-11.25)"/><use id="b3" href="#ndB" transform="rotate(22.5) translate(52) rotate(-22.5)"/><use id="b4" href="#ndB" transform="rotate(33.75) translate(52) rotate(-33.75)"/><use id="b5" href="#ndB" transform="rotate(45) translate(52) rotate(-45)"/><use id="b6" href="#ndB" transform="rotate(56.25) translate(52) rotate(-56.25)"/><use id="b7" href="#ndB" transform="rotate(67.5) translate(52) rotate(-67.5)"/><use id="b8" href="#ndB" transform="rotate(78.75) translate(52) rotate(-78.75)"/><use id="b9" href="#ndB" transform="rotate(90) translate(52) rotate(-90)"/><use id="b10" href="#ndB" transform="rotate(101.25) translate(52) rotate(-101.25)"/><use id="b11" href="#ndB" transform="rotate(112.5) translate(52) rotate(-112.5)"/><use id="b12" href="#ndB" transform="rotate(123.75) translate(52) rotate(-123.75)"/><use id="b13" href="#ndB" transform="rotate(135) translate(52) rotate(-135)"/><use id="b14" href="#ndB" transform="rotate(146.25) translate(52) rotate(-146.25)"/><use id="b15" href="#ndB" transform="rotate(157.5) translate(52) rotate(-157.5)"/><use id="b16" href="#ndB" transform="rotate(168.75) translate(52) rotate(-168.75)"/><use id="b17" href="#ndB" transform="rotate(180) translate(52) rotate(-180)"/><use id="b18" href="#ndB" transform="rotate(191.25) translate(52) rotate(-191.25)"/><use id="b19" href="#ndB" transform="rotate(202.5) translate(52) rotate(-202.5)"/><use id="b20" href="#ndB" transform="rotate(213.75) translate(52) rotate(-213.75)"/><use id="b21" href="#ndB" transform="rotate(225) translate(52) rotate(-225)"/><use id="b22" href="#ndB" transform="rotate(236.25) translate(52) rotate(-236.25)"/><use id="b23" href="#ndB" transform="rotate(247.5) translate(52) rotate(-247.5)"/><use id="b24" href="#ndB" transform="rotate(258.75) translate(52) rotate(-258.75)"/><use id="b25" href="#ndB" transform="rotate(270) translate(52) rotate(-270)"/><use id="b26" href="#ndB" transform="rotate(281.25) translate(52) rotate(-281.25)"/><use id="b27" href="#ndB" transform="rotate(292.5) translate(52) rotate(-292.5)"/><use id="b28" href="#ndB" transform="rotate(303.75) translate(52) rotate(-303.75)"/><use id="b29" href="#ndB" transform="rotate(315) translate(52) rotate(-315)"/><use id="b30" href="#ndB" transform="rotate(326.25) translate(52) rotate(-326.25)"/><use id="b31" href="#ndB" transform="rotate(337.5) translate(52) rotate(-337.5)"/><use id="b32" href="#ndB" transform="rotate(348.75) translate(52) rotate(-348.75)"/>
<use id="b33" href="#ndB" transform="rotate(6) translate(43) rotate(-6)"/><use id="b34" href="#ndB" transform="rotate(21) translate(43) rotate(-21)"/><use id="b35" href="#ndB" transform="rotate(36) translate(43) rotate(-36)"/><use id="b36" href="#ndB" transform="rotate(51) translate(43) rotate(-51)"/><use id="b37" href="#ndB" transform="rotate(66) translate(43) rotate(-66)"/><use id="b38" href="#ndB" transform="rotate(81) translate(43) rotate(-81)"/><use id="b39" href="#ndB" transform="rotate(96) translate(43) rotate(-96)"/><use id="b40" href="#ndB" transform="rotate(111) translate(43) rotate(-111)"/><use id="b41" href="#ndB" transform="rotate(126) translate(43) rotate(-126)"/><use id="b42" href="#ndB" transform="rotate(141) translate(43) rotate(-141)"/><use id="b43" href="#ndB" transform="rotate(156) translate(43) rotate(-156)"/><use id="b44" href="#ndB" transform="rotate(171) translate(43) rotate(-171)"/><use id="b45" href="#ndB" transform="rotate(186) translate(43) rotate(-186)"/><use id="b46" href="#ndB" transform="rotate(201) translate(43) rotate(-201)"/><use id="b47" href="#ndB" transform="rotate(216) translate(43) rotate(-216)"/><use id="b48" href="#ndB" transform="rotate(231) translate(43) rotate(-231)"/><use id="b49" href="#ndB" transform="rotate(246) translate(43) rotate(-246)"/><use id="b50" href="#ndB" transform="rotate(261) translate(43) rotate(-261)"/><use id="b51" href="#ndB" transform="rotate(276) translate(43) rotate(-276)"/><use id="b52" href="#ndB" transform="rotate(291) translate(43) rotate(-291)"/><use id="b53" href="#ndB" transform="rotate(306) translate(43) rotate(-306)"/><use id="b54" href="#ndB" transform="rotate(321) translate(43) rotate(-321)"/><use id="b55" href="#ndB" transform="rotate(336) translate(43) rotate(-336)"/><use id="b56" href="#ndB" transform="rotate(351) translate(43) rotate(-351)"/>
<use id="b57" href="#ndB" transform="rotate(9) translate(34) rotate(-9)"/><use id="b58" href="#ndB" transform="rotate(27) translate(34) rotate(-27)"/><use id="b59" href="#ndB" transform="rotate(45) translate(34) rotate(-45)"/><use id="b60" href="#ndB" transform="rotate(63) translate(34) rotate(-63)"/><use id="b61" href="#ndB" transform="rotate(81) translate(34) rotate(-81)"/><use id="b62" href="#ndB" transform="rotate(99) translate(34) rotate(-99)"/><use id="b63" href="#ndB" transform="rotate(117) translate(34) rotate(-117)"/><use id="b64" href="#ndB" transform="rotate(135) translate(34) rotate(-135)"/><use id="b65" href="#ndB" transform="rotate(153) translate(34) rotate(-153)"/><use id="b66" href="#ndB" transform="rotate(171) translate(34) rotate(-171)"/><use id="b67" href="#ndB" transform="rotate(189) translate(34) rotate(-189)"/><use id="b68" href="#ndB" transform="rotate(207) translate(34) rotate(-207)"/><use id="b69" href="#ndB" transform="rotate(225) translate(34) rotate(-225)"/><use id="b70" href="#ndB" transform="rotate(243) translate(34) rotate(-243)"/><use id="b71" href="#ndB" transform="rotate(261) translate(34) rotate(-261)"/><use id="b72" href="#ndB" transform="rotate(279) translate(34) rotate(-279)"/><use id="b73" href="#ndB" transform="rotate(297) translate(34) rotate(-297)"/><use id="b74" href="#ndB" transform="rotate(315) translate(34) rotate(-315)"/><use id="b75" href="#ndB" transform="rotate(333) translate(34) rotate(-333)"/><use id="b76" href="#ndB" transform="rotate(351) translate(34) rotate(-351)"/>
<use id="b77" href="#ndB" transform="rotate(3) translate(25) rotate(-3)"/><use id="b78" href="#ndB" transform="rotate(27) translate(25) rotate(-27)"/><use id="b79" href="#ndB" transform="rotate(51) translate(25) rotate(-51)"/><use id="b80" href="#ndB" transform="rotate(75) translate(25) rotate(-75)"/><use id="b81" href="#ndB" transform="rotate(99) translate(25) rotate(-99)"/><use id="b82" href="#ndB" transform="rotate(123) translate(25) rotate(-123)"/><use id="b83" href="#ndB" transform="rotate(147) translate(25) rotate(-147)"/><use id="b84" href="#ndB" transform="rotate(171) translate(25) rotate(-171)"/><use id="b85" href="#ndB" transform="rotate(195) translate(25) rotate(-195)"/><use id="b86" href="#ndB" transform="rotate(219) translate(25) rotate(-219)"/><use id="b87" href="#ndB" transform="rotate(243) translate(25) rotate(-243)"/><use id="b88" href="#ndB" transform="rotate(267) translate(25) rotate(-267)"/><use id="b89" href="#ndB" transform="rotate(291) translate(25) rotate(-291)"/><use id="b90" href="#ndB" transform="rotate(315) translate(25) rotate(-315)"/><use id="b91" href="#ndB" transform="rotate(339) translate(25) rotate(-339)"/>
<use id="b92" href="#ndB" transform="rotate(20) translate(15) rotate(-20)"/><use id="b93" href="#ndB" transform="rotate(65) translate(15) rotate(-65)"/><use id="b94" href="#ndB" transform="rotate(110) translate(15) rotate(-110)"/><use id="b95" href="#ndB" transform="rotate(155) translate(15) rotate(-155)"/><use id="b96" href="#ndB" transform="rotate(200) translate(15) rotate(-200)"/><use id="b97" href="#ndB" transform="rotate(245) translate(15) rotate(-245)"/><use id="b98" href="#ndB" transform="rotate(290) translate(15) rotate(-290)"/><use id="b99" href="#ndB" transform="rotate(335) translate(15) rotate(-335)"/>
</g>

<g id="nodes-hubD" transform="translate(653 457) scale(1.25 1)">
<use id="d1" href="#ndD" transform="rotate(-10) translate(46) rotate(10)"/><use id="d2" href="#ndD" transform="rotate(0) translate(46) rotate(0)"/><use id="d3" href="#ndD" transform="rotate(10) translate(46) rotate(-10)"/><use id="d4" href="#ndD" transform="rotate(20) translate(46) rotate(-20)"/><use id="d5" href="#ndD" transform="rotate(30) translate(46) rotate(-30)"/><use id="d6" href="#ndD" transform="rotate(40) translate(46) rotate(-40)"/><use id="d7" href="#ndD" transform="rotate(50) translate(46) rotate(-50)"/><use id="d8" href="#ndD" transform="rotate(60) translate(46) rotate(-60)"/><use id="d9" href="#ndD" transform="rotate(70) translate(46) rotate(-70)"/><use id="d10" href="#ndD" transform="rotate(80) translate(46) rotate(-80)"/><use id="d11" href="#ndD" transform="rotate(90) translate(46) rotate(-90)"/><use id="d12" href="#ndD" transform="rotate(100) translate(46) rotate(-100)"/><use id="d13" href="#ndD" transform="rotate(110) translate(46) rotate(-110)"/><use id="d14" href="#ndD" transform="rotate(120) translate(46) rotate(-120)"/><use id="d15" href="#ndD" transform="rotate(130) translate(46) rotate(-130)"/><use id="d16" href="#ndD" transform="rotate(140) translate(46) rotate(-140)"/><use id="d17" href="#ndD" transform="rotate(150) translate(46) rotate(-150)"/><use id="d18" href="#ndD" transform="rotate(160) translate(46) rotate(-160)"/><use id="d19" href="#ndD" transform="rotate(170) translate(46) rotate(-170)"/><use id="d20" href="#ndD" transform="rotate(180) translate(46) rotate(-180)"/><use id="d21" href="#ndD" transform="rotate(190) translate(46) rotate(-190)"/>
<use id="d22" href="#ndD" transform="rotate(-6) translate(37) rotate(6)"/><use id="d23" href="#ndD" transform="rotate(6) translate(37) rotate(-6)"/><use id="d24" href="#ndD" transform="rotate(18) translate(37) rotate(-18)"/><use id="d25" href="#ndD" transform="rotate(30) translate(37) rotate(-30)"/><use id="d26" href="#ndD" transform="rotate(42) translate(37) rotate(-42)"/><use id="d27" href="#ndD" transform="rotate(54) translate(37) rotate(-54)"/><use id="d28" href="#ndD" transform="rotate(66) translate(37) rotate(-66)"/><use id="d29" href="#ndD" transform="rotate(78) translate(37) rotate(-78)"/><use id="d30" href="#ndD" transform="rotate(90) translate(37) rotate(-90)"/><use id="d31" href="#ndD" transform="rotate(102) translate(37) rotate(-102)"/><use id="d32" href="#ndD" transform="rotate(114) translate(37) rotate(-114)"/><use id="d33" href="#ndD" transform="rotate(126) translate(37) rotate(-126)"/><use id="d34" href="#ndD" transform="rotate(138) translate(37) rotate(-138)"/><use id="d35" href="#ndD" transform="rotate(150) translate(37) rotate(-150)"/><use id="d36" href="#ndD" transform="rotate(162) translate(37) rotate(-162)"/><use id="d37" href="#ndD" transform="rotate(174) translate(37) rotate(-174)"/><use id="d38" href="#ndD" transform="rotate(186) translate(37) rotate(-186)"/>
<use id="d39" href="#ndD" transform="rotate(0) translate(28) rotate(0)"/><use id="d40" href="#ndD" transform="rotate(16) translate(28) rotate(-16)"/><use id="d41" href="#ndD" transform="rotate(32) translate(28) rotate(-32)"/><use id="d42" href="#ndD" transform="rotate(48) translate(28) rotate(-48)"/><use id="d43" href="#ndD" transform="rotate(64) translate(28) rotate(-64)"/><use id="d44" href="#ndD" transform="rotate(80) translate(28) rotate(-80)"/><use id="d45" href="#ndD" transform="rotate(96) translate(28) rotate(-96)"/><use id="d46" href="#ndD" transform="rotate(112) translate(28) rotate(-112)"/><use id="d47" href="#ndD" transform="rotate(128) translate(28) rotate(-128)"/><use id="d48" href="#ndD" transform="rotate(144) translate(28) rotate(-144)"/><use id="d49" href="#ndD" transform="rotate(160) translate(28) rotate(-160)"/><use id="d50" href="#ndD" transform="rotate(176) translate(28) rotate(-176)"/>
<use id="d51" href="#ndD" transform="rotate(10) translate(19) rotate(-10)"/><use id="d52" href="#ndD" transform="rotate(40) translate(19) rotate(-40)"/><use id="d53" href="#ndD" transform="rotate(70) translate(19) rotate(-70)"/><use id="d54" href="#ndD" transform="rotate(100) translate(19) rotate(-100)"/><use id="d55" href="#ndD" transform="rotate(130) translate(19) rotate(-130)"/><use id="d56" href="#ndD" transform="rotate(160) translate(19) rotate(-160)"/>
<use id="d57" href="#ndD" transform="rotate(195) translate(42) rotate(-195)"/><use id="d58" href="#ndD" transform="rotate(207) translate(42) rotate(-207)"/><use id="d59" href="#ndD" transform="rotate(333) translate(42) rotate(-333)"/><use id="d60" href="#ndD" transform="rotate(345) translate(42) rotate(-345)"/><use id="d61" href="#ndD" transform="rotate(222) translate(30) rotate(-222)"/><use id="d62" href="#ndD" transform="rotate(318) translate(30) rotate(-318)"/>
</g>

<g id="nodes">
<use id="hubA" href="#nd" x="452" y="248"/><use id="hubB" href="#nd" x="187" y="398"/><use id="hubC" href="#nd" x="667" y="393"/><use id="hubD" href="#nd" x="653" y="457"/>
<use id="c1" href="#nd" x="667" y="357"/><use id="c2" href="#nd" x="679" y="358"/><use id="c3" href="#nd" x="691" y="358"/><use id="c4" href="#nd" x="702" y="361"/><use id="c5" href="#nd" x="717" y="370"/><use id="c6" href="#nd" x="723" y="382"/><use id="c7" href="#nd" x="724" y="390"/><use id="c8" href="#nd" x="723" y="398"/><use id="c9" href="#nd" x="710" y="398"/><use id="c10" href="#nd" x="708" y="391"/><use id="c11" href="#nd" x="707" y="382"/><use id="c12" href="#nd" x="693" y="386"/><use id="c13" href="#nd" x="698" y="377"/><use id="c14" href="#nd" x="687" y="368"/><use id="c15" href="#nd" x="679" y="368"/><use id="c16" href="#nd" x="667" y="368"/><use id="c17" href="#nd" x="656" y="363"/><use id="c18" href="#nd" x="648" y="372"/><use id="c19" href="#nd" x="659" y="378"/><use id="c20" href="#nd" x="680" y="377"/><use id="c21" href="#nd" x="694" y="395"/>
<use id="l1" href="#nd" x="643" y="416"/><use id="l2" href="#nd" x="652" y="417"/><use id="l3" href="#nd" x="659" y="414"/><use id="l4" href="#nd" x="666" y="418"/><use id="l5" href="#nd" x="673" y="416"/><use id="l6" href="#nd" x="681" y="418"/><use id="l7" href="#nd" x="688" y="421"/><use id="l8" href="#nd" x="690" y="428"/><use id="l9" href="#nd" x="643" y="424"/><use id="l10" href="#nd" x="650" y="427"/><use id="l11" href="#nd" x="657" y="425"/><use id="l12" href="#nd" x="664" y="427"/><use id="l13" href="#nd" x="672" y="425"/><use id="l14" href="#nd" x="680" y="425"/>
<use id="t1" href="#nd" x="452" y="312"/><use id="t2" href="#nd" x="473" y="308"/><use id="t3" href="#nd" x="486" y="313"/><use id="t4" href="#nd" x="491" y="304"/><use id="t5" href="#nd" x="457" y="332"/><use id="t6" href="#nd" x="423" y="361"/><use id="t7" href="#nd" x="434" y="365"/><use id="E" href="#nd" x="503" y="342"/><use id="t8" href="#nd" x="484" y="349"/><use id="t9" href="#nd" x="515" y="347"/><use id="t10" href="#nd" x="523" y="356"/><use id="t11" href="#nd" x="532" y="348"/><use id="t12" href="#nd" x="547" y="352"/><use id="t13" href="#nd" x="551" y="342"/><use id="t14" href="#nd" x="538" y="362"/><use id="t15" href="#nd" x="558" y="359"/><use id="t16" href="#nd" x="529" y="369"/><use id="t17" href="#nd" x="508" y="362"/><use id="t18" href="#nd" x="502" y="354"/><use id="t19" href="#nd" x="517" y="373"/><use id="t20" href="#nd" x="468" y="368"/><use id="t21" href="#nd" x="478" y="373"/><use id="t22" href="#nd" x="487" y="369"/><use id="t23" href="#nd" x="498" y="373"/><use id="t24" href="#nd" x="497" y="383"/><use id="t25" href="#nd" x="498" y="390"/><use id="t26" href="#nd" x="465" y="403"/><use id="t27" href="#nd" x="519" y="400"/><use id="F" href="#nd" x="593" y="385"/><use id="t28" href="#nd" x="602" y="400"/><use id="t29" href="#nd" x="573" y="411"/><use id="H" href="#nd" x="546" y="420"/><use id="G" href="#nd" x="496" y="422"/><use id="t30" href="#nd" x="516" y="427"/><use id="t31" href="#nd" x="463" y="427"/><use id="t32" href="#nd" x="451" y="430"/><use id="t33" href="#nd" x="456" y="439"/><use id="t34" href="#nd" x="468" y="437"/><use id="t35" href="#nd" x="492" y="432"/><use id="t36" href="#nd" x="497" y="438"/><use id="t37" href="#nd" x="480" y="451"/><use id="t38" href="#nd" x="498" y="447"/><use id="t39" href="#nd" x="495" y="455"/><use id="t40" href="#nd" x="526" y="439"/><use id="t41" href="#nd" x="543" y="436"/><use id="t42" href="#nd" x="535" y="449"/><use id="I" href="#nd" x="462" y="459"/><use id="t43" href="#nd" x="427" y="464"/><use id="t44" href="#nd" x="433" y="472"/><use id="t45" href="#nd" x="437" y="479"/><use id="t46" href="#nd" x="448" y="483"/><use id="t47" href="#nd" x="459" y="479"/><use id="t48" href="#nd" x="468" y="486"/><use id="f1" href="#nd" x="609" y="364"/><use id="f2" href="#nd" x="608" y="374"/><use id="f3" href="#nd" x="618" y="425"/>
<use id="J" href="#nd" x="257" y="99"/><use id="j1" href="#nd" x="243" y="79"/><use id="j2" href="#nd" x="260" y="77"/><use id="j3" href="#nd" x="231" y="86"/><use id="j4" href="#nd" x="242" y="93"/><use id="j5" href="#nd" x="256" y="88"/><use id="j6" href="#nd" x="274" y="82"/><use id="j7" href="#nd" x="287" y="88"/><use id="j8" href="#nd" x="273" y="94"/><use id="j9" href="#nd" x="223" y="96"/><use id="j10" href="#nd" x="226" y="105"/><use id="j11" href="#nd" x="243" y="104"/><use id="j12" href="#nd" x="291" y="98"/><use id="j13" href="#nd" x="287" y="108"/><use id="j14" href="#nd" x="268" y="106"/><use id="j15" href="#nd" x="234" y="115"/><use id="j16" href="#nd" x="252" y="114"/><use id="j17" href="#nd" x="251" y="122"/><use id="j18" href="#nd" x="267" y="120"/><use id="j19" href="#nd" x="281" y="116"/>
<use id="p1" href="#nd" x="293" y="58"/><use id="p2" href="#nd" x="299" y="63"/><use id="p3" href="#nd" x="318" y="53"/><use id="p4" href="#nd" x="325" y="63"/><use id="p5" href="#nd" x="340" y="41"/><use id="p6" href="#nd" x="346" y="46"/><use id="p7" href="#nd" x="333" y="88"/><use id="p8" href="#nd" x="337" y="98"/><use id="p9" href="#nd" x="341" y="109"/>
<use id="K" href="#nd" x="389" y="66"/><use id="k1" href="#nd" x="362" y="67"/><use id="k2" href="#nd" x="374" y="61"/><use id="k3" href="#nd" x="382" y="53"/><use id="k4" href="#nd" x="403" y="46"/><use id="k5" href="#nd" x="368" y="79"/><use id="k6" href="#nd" x="381" y="76"/><use id="k7" href="#nd" x="408" y="68"/><use id="k8" href="#nd" x="411" y="74"/><use id="k9" href="#nd" x="407" y="82"/><use id="k10" href="#nd" x="398" y="33"/><use id="k11" href="#nd" x="421" y="36"/><use id="k12" href="#nd" x="418" y="62"/>
<use id="L" href="#nd" x="442" y="75"/><use id="m1" href="#nd" x="441" y="57"/><use id="m2" href="#nd" x="453" y="54"/><use id="m3" href="#nd" x="465" y="59"/><use id="m4" href="#nd" x="463" y="69"/><use id="m5" href="#nd" x="475" y="69"/><use id="m6" href="#nd" x="477" y="79"/><use id="m7" href="#nd" x="465" y="83"/><use id="m8" href="#nd" x="467" y="91"/><use id="m9" href="#nd" x="448" y="95"/><use id="m10" href="#nd" x="427" y="94"/><use id="m11" href="#nd" x="432" y="77"/><use id="m12" href="#nd" x="442" y="82"/>
<use id="q1" href="#nd" x="507" y="42"/><use id="q2" href="#nd" x="519" y="47"/><use id="q3" href="#nd" x="523" y="61"/><use id="q4" href="#nd" x="516" y="62"/><use id="q5" href="#nd" x="528" y="69"/><use id="q6" href="#nd" x="555" y="52"/><use id="q7" href="#nd" x="566" y="55"/><use id="q8" href="#nd" x="552" y="76"/><use id="q9" href="#nd" x="546" y="85"/><use id="q10" href="#nd" x="537" y="94"/>
<use id="M" href="#nd" x="613" y="91"/><use id="r1" href="#nd" x="598" y="73"/><use id="r2" href="#nd" x="617" y="74"/><use id="r3" href="#nd" x="629" y="76"/><use id="r4" href="#nd" x="639" y="83"/><use id="r5" href="#nd" x="633" y="93"/><use id="r6" href="#nd" x="587" y="83"/><use id="r7" href="#nd" x="595" y="93"/><use id="r8" href="#nd" x="584" y="98"/><use id="r9" href="#nd" x="605" y="83"/>
<use id="N" href="#nd" x="628" y="121"/><use id="s1" href="#nd" x="627" y="108"/><use id="s2" href="#nd" x="607" y="112"/><use id="s3" href="#nd" x="600" y="120"/><use id="s4" href="#nd" x="606" y="129"/><use id="s5" href="#nd" x="656" y="116"/><use id="s6" href="#nd" x="679" y="110"/><use id="s7" href="#nd" x="668" y="121"/><use id="s8" href="#nd" x="654" y="128"/><use id="s9" href="#nd" x="662" y="130"/><use id="s10" href="#nd" x="672" y="132"/><use id="s11" href="#nd" x="635" y="129"/><use id="s12" href="#nd" x="631" y="138"/><use id="O" href="#nd" x="658" y="143"/><use id="s13" href="#nd" x="683" y="147"/><use id="s14" href="#nd" x="677" y="157"/><use id="s15" href="#nd" x="663" y="162"/><use id="s16" href="#nd" x="648" y="159"/><use id="s17" href="#nd" x="636" y="144"/><use id="s18" href="#nd" x="650" y="136"/>
<use id="u1" href="#nd" x="712" y="115"/><use id="u2" href="#nd" x="717" y="123"/><use id="u3" href="#nd" x="727" y="124"/><use id="u4" href="#nd" x="717" y="131"/><use id="u5" href="#nd" x="729" y="157"/><use id="u6" href="#nd" x="737" y="153"/><use id="u7" href="#nd" x="745" y="150"/><use id="u8" href="#nd" x="760" y="170"/><use id="u9" href="#nd" x="768" y="166"/><use id="u10" href="#nd" x="700" y="178"/><use id="u11" href="#nd" x="703" y="178"/><use id="u12" href="#nd" x="720" y="180"/><use id="u13" href="#nd" x="779" y="184"/><use id="u14" href="#nd" x="792" y="189"/><use id="u15" href="#nd" x="741" y="190"/><use id="u16" href="#nd" x="745" y="197"/><use id="u17" href="#nd" x="777" y="202"/><use id="u18" href="#nd" x="769" y="210"/><use id="u19" href="#nd" x="767" y="220"/><use id="u20" href="#nd" x="682" y="209"/><use id="u21" href="#nd" x="672" y="199"/><use id="u22" href="#nd" x="693" y="200"/><use id="u23" href="#nd" x="700" y="214"/><use id="u24" href="#nd" x="683" y="223"/><use id="u25" href="#nd" x="732" y="214"/><use id="u26" href="#nd" x="737" y="224"/><use id="u27" href="#nd" x="731" y="233"/><use id="u28" href="#nd" x="793" y="217"/><use id="u29" href="#nd" x="803" y="220"/><use id="u30" href="#nd" x="692" y="244"/><use id="u31" href="#nd" x="706" y="247"/><use id="u32" href="#nd" x="716" y="254"/><use id="u33" href="#nd" x="749" y="248"/><use id="u34" href="#nd" x="752" y="258"/><use id="u35" href="#nd" x="777" y="243"/><use id="u36" href="#nd" x="777" y="253"/><use id="u37" href="#nd" x="811" y="237"/><use id="u38" href="#nd" x="811" y="247"/><use id="u39" href="#nd" x="808" y="255"/><use id="u40" href="#nd" x="816" y="264"/><use id="u41" href="#nd" x="694" y="270"/><use id="u42" href="#nd" x="722" y="278"/><use id="u43" href="#nd" x="736" y="274"/><use id="u44" href="#nd" x="702" y="290"/><use id="u45" href="#nd" x="723" y="302"/>
<use id="P" href="#nd" x="781" y="312"/><use id="v1" href="#nd" x="793" y="277"/><use id="v2" href="#nd" x="790" y="295"/><use id="v3" href="#nd" x="760" y="284"/><use id="v4" href="#nd" x="768" y="298"/><use id="v5" href="#nd" x="757" y="307"/><use id="v6" href="#nd" x="764" y="315"/><use id="v7" href="#nd" x="797" y="307"/><use id="v8" href="#nd" x="799" y="316"/><use id="v9" href="#nd" x="797" y="324"/><use id="v10" href="#nd" x="789" y="331"/><use id="v11" href="#nd" x="772" y="330"/><use id="v12" href="#nd" x="775" y="321"/><use id="v13" href="#nd" x="827" y="287"/><use id="v14" href="#nd" x="828" y="297"/><use id="v15" href="#nd" x="817" y="345"/><use id="v16" href="#nd" x="811" y="350"/><use id="v17" href="#nd" x="811" y="367"/><use id="v18" href="#nd" x="804" y="371"/>
<use id="w1" href="#nd" x="176" y="103"/><use id="w2" href="#nd" x="178" y="112"/><use id="w3" href="#nd" x="202" y="131"/><use id="w4" href="#nd" x="204" y="133"/>
<use id="Q1" href="#nd" x="153" y="143"/><use id="Q2" href="#nd" x="146" y="165"/><use id="Q3" href="#nd" x="159" y="165"/><use id="x1" href="#nd" x="138" y="133"/><use id="x2" href="#nd" x="158" y="128"/><use id="x3" href="#nd" x="171" y="147"/><use id="x4" href="#nd" x="147" y="150"/><use id="x5" href="#nd" x="164" y="155"/><use id="x6" href="#nd" x="132" y="158"/><use id="x7" href="#nd" x="106" y="168"/><use id="x8" href="#nd" x="126" y="169"/><use id="x9" href="#nd" x="175" y="164"/><use id="x10" href="#nd" x="167" y="175"/><use id="x11" href="#nd" x="184" y="176"/><use id="x12" href="#nd" x="159" y="184"/><use id="x13" href="#nd" x="133" y="186"/>
<use id="y1" href="#nd" x="217" y="161"/><use id="y2" href="#nd" x="224" y="166"/><use id="y3" href="#nd" x="237" y="158"/><use id="y4" href="#nd" x="230" y="177"/><use id="y5" href="#nd" x="268" y="151"/><use id="y6" href="#nd" x="263" y="156"/><use id="y7" href="#nd" x="88" y="183"/><use id="y8" href="#nd" x="97" y="190"/><use id="y9" href="#nd" x="73" y="202"/><use id="y10" href="#nd" x="67" y="208"/><use id="y11" href="#nd" x="219" y="194"/><use id="y12" href="#nd" x="219" y="205"/><use id="y13" href="#nd" x="162" y="209"/><use id="y14" href="#nd" x="189" y="204"/><use id="y15" href="#nd" x="178" y="225"/><use id="y16" href="#nd" x="205" y="222"/>
<use id="R" href="#nd" x="109" y="233"/><use id="z1" href="#nd" x="91" y="222"/><use id="z2" href="#nd" x="103" y="219"/><use id="z3" href="#nd" x="116" y="216"/><use id="z4" href="#nd" x="127" y="221"/><use id="z5" href="#nd" x="133" y="229"/><use id="z6" href="#nd" x="136" y="239"/><use id="z7" href="#nd" x="124" y="246"/><use id="z8" href="#nd" x="111" y="252"/><use id="z9" href="#nd" x="90" y="248"/><use id="z10" href="#nd" x="82" y="238"/><use id="z11" href="#nd" x="83" y="230"/>
<use id="z12" href="#nd" x="192" y="253"/><use id="z13" href="#nd" x="206" y="252"/><use id="z14" href="#nd" x="200" y="264"/><use id="z15" href="#nd" x="162" y="252"/><use id="z16" href="#nd" x="159" y="262"/><use id="z17" href="#nd" x="49" y="256"/><use id="z18" href="#nd" x="59" y="261"/><use id="z19" href="#nd" x="49" y="280"/><use id="z20" href="#nd" x="49" y="290"/><use id="z21" href="#nd" x="86" y="273"/><use id="z22" href="#nd" x="77" y="281"/><use id="z23" href="#nd" x="141" y="275"/><use id="z24" href="#nd" x="119" y="283"/><use id="z25" href="#nd" x="107" y="287"/><use id="z26" href="#nd" x="84" y="299"/><use id="z27" href="#nd" x="47" y="307"/><use id="z28" href="#nd" x="62" y="310"/><use id="z29" href="#nd" x="58" y="321"/>
<use id="g1" href="#nd" x="360" y="473"/><use id="g2" href="#nd" x="362" y="478"/><use id="g3" href="#nd" x="340" y="489"/><use id="g4" href="#nd" x="351" y="496"/><use id="g5" href="#nd" x="313" y="494"/><use id="g6" href="#nd" x="319" y="503"/><use id="g7" href="#nd" x="289" y="508"/><use id="g8" href="#nd" x="299" y="516"/><use id="g9" href="#nd" x="253" y="512"/><use id="g10" href="#nd" x="254" y="517"/><use id="g11" href="#nd" x="227" y="524"/><use id="g12" href="#nd" x="238" y="532"/><use id="g13" href="#nd" x="277" y="528"/><use id="g14" href="#nd" x="289" y="532"/><use id="g15" href="#nd" x="333" y="518"/><use id="g16" href="#nd" x="347" y="518"/><use id="g17" href="#nd" x="379" y="504"/><use id="g18" href="#nd" x="387" y="497"/>
<use id="S" href="#nd" x="399" y="530"/><use id="h1" href="#nd" x="402" y="517"/><use id="h2" href="#nd" x="380" y="528"/><use id="h3" href="#nd" x="417" y="526"/><use id="h4" href="#nd" x="412" y="539"/><use id="h5" href="#nd" x="390" y="542"/>
<use id="g19" href="#nd" x="273" y="546"/><use id="g20" href="#nd" x="287" y="549"/><use id="g21" href="#nd" x="328" y="537"/><use id="g22" href="#nd" x="342" y="536"/><use id="g23" href="#nd" x="313" y="552"/><use id="g24" href="#nd" x="323" y="559"/><use id="g25" href="#nd" x="349" y="550"/><use id="g26" href="#nd" x="355" y="557"/><use id="g27" href="#nd" x="382" y="560"/><use id="g28" href="#nd" x="373" y="567"/><use id="g29" href="#nd" x="404" y="567"/><use id="g30" href="#nd" x="416" y="569"/><use id="g31" href="#nd" x="450" y="520"/><use id="g32" href="#nd" x="465" y="520"/><use id="g33" href="#nd" x="433" y="554"/><use id="g34" href="#nd" x="447" y="550"/><use id="g35" href="#nd" x="439" y="563"/><use id="g36" href="#nd" x="462" y="537"/><use id="g37" href="#nd" x="473" y="540"/><use id="g38" href="#nd" x="469" y="567"/><use id="g39" href="#nd" x="478" y="565"/><use id="g40" href="#nd" x="510" y="529"/><use id="g41" href="#nd" x="506" y="537"/><use id="g42" href="#nd" x="499" y="545"/><use id="g43" href="#nd" x="513" y="560"/><use id="g44" href="#nd" x="521" y="559"/><use id="g45" href="#nd" x="540" y="543"/><use id="g46" href="#nd" x="549" y="551"/>
</g>

<g id="legend">
<rect x="884.5" y="233.5" width="27" height="138" fill="#fff" stroke="#000" stroke-width="1"/>
<path d="M884.5 261.1h27M884.5 288.7h27M884.5 316.3h27M884.5 343.9h27" stroke="#000" stroke-width="1" fill="none"/>
<line x1="888" y1="247.3" x2="908" y2="247.3" stroke="#F8766D" stroke-width="1.2"/>
<line x1="888" y1="274.9" x2="908" y2="274.9" stroke="#A3A500" stroke-width="1.6"/>
<line x1="888" y1="302.5" x2="908" y2="302.5" stroke="#00BF7D" stroke-width="1.2"/>
<line x1="888" y1="330.1" x2="908" y2="330.1" stroke="#00B0F6" stroke-width="1.2"/>
<line x1="888" y1="357.7" x2="908" y2="357.7" stroke="#E76BF3" stroke-width="1.2"/>
<text class="lg" x="916" y="250.3">0</text>
<text class="lg" x="916" y="277.9">1</text>
<text class="lg" x="916" y="305.5">2</text>
<text class="lg" x="916" y="333.1">3</text>
<text class="lg" x="916" y="360.7">4</text>
</g>
</svg>
